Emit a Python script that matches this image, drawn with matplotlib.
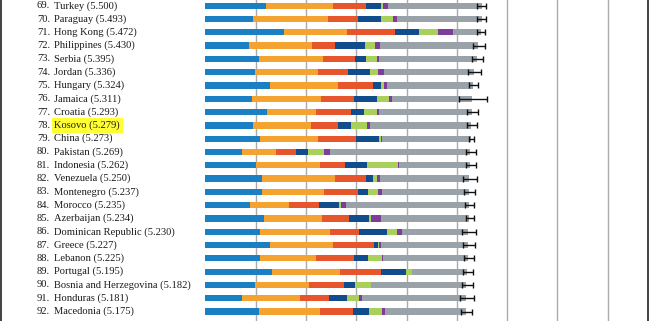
import matplotlib.pyplot as plt

ranks = list(range(69, 93))
countries = ["Turkey", "Paraguay", "Hong Kong", "Philippines", "Serbia", "Jordan",
             "Hungary", "Jamaica", "Croatia", "Kosovo", "China", "Pakistan",
             "Indonesia", "Venezuela", "Montenegro", "Morocco", "Azerbaijan",
             "Dominican Republic", "Greece", "Lebanon", "Portugal",
             "Bosnia and Herzegovina", "Honduras", "Macedonia"]
scores = [5.500, 5.493, 5.472, 5.430, 5.395, 5.336, 5.324, 5.311, 5.293, 5.279,
          5.273, 5.269, 5.262, 5.250, 5.237, 5.235, 5.234, 5.230, 5.227, 5.225,
          5.195, 5.182, 5.181, 5.175]

gdp = [1.207, 0.954, 1.565, 0.869, 1.068, 0.988, 1.286, 0.934, 1.227, 0.954, 1.093, 0.736,
       1.008, 1.127, 1.127, 0.889, 1.167, 1.087, 1.286, 1.087, 1.326, 0.988, 0.730, 1.068]
support = [1.326, 1.485, 1.252, 1.252, 1.272, 1.252, 1.352, 1.366, 0.974, 1.147, 1.147, 0.676,
           1.272, 1.451, 1.233, 0.775, 1.153, 1.392, 1.252, 1.113, 1.352, 1.074, 1.153, 1.213]
health = [0.656, 0.596, 0.954, 0.457, 0.636, 0.596, 0.690, 0.656, 0.696, 0.537, 0.755, 0.398,
          0.497, 0.616, 0.676, 0.596, 0.537, 0.570, 0.815, 0.761, 0.815, 0.696, 0.577, 0.656]
freedom = [0.304, 0.457, 0.477, 0.596, 0.219, 0.437, 0.166, 0.457, 0.252, 0.258, 0.457, 0.233,
           0.444, 0.139, 0.199, 0.398, 0.404, 0.569, 0.086, 0.272, 0.497, 0.219, 0.358, 0.318]
generosity = [0.040, 0.233, 0.378, 0.199, 0.212, 0.152, 0.066, 0.239, 0.265, 0.312, 0.033, 0.318,
              0.616, 0.080, 0.199, 0.040, 0.034, 0.187, 0.005, 0.278, 0.110, 0.318, 0.239, 0.258]
corruption = [0.093, 0.085, 0.298, 0.099, 0.046, 0.126, 0.048, 0.060, 0.040, 0.060, 0.020, 0.119,
              0.015, 0.060, 0.080, 0.099, 0.199, 0.110, 0.040, 0.020, 0.015, 0.005, 0.060, 0.060]
residual = [1.874, 1.683, 0.548, 1.958, 1.942, 1.785, 1.716, 1.599, 1.839, 2.011, 1.768, 2.789,
            1.410, 1.777, 1.723, 2.438, 1.740, 1.315, 1.743, 1.694, 1.080, 1.882, 2.064, 1.602]

whisker_low = [5.41, 5.41, 5.40, 5.33, 5.31, 5.23, 5.25, 5.05, 5.21, 5.21, 5.24, 5.19,
               5.18, 5.13, 5.14, 5.16, 5.18, 5.11, 5.13, 5.15, 5.12, 5.10, 5.07, 5.08]
whisker_high = [5.59, 5.58, 5.57, 5.57, 5.52, 5.48, 5.43, 5.61, 5.42, 5.40, 5.34, 5.39,
                5.38, 5.40, 5.37, 5.34, 5.34, 5.38, 5.36, 5.34, 5.32, 5.32, 5.34, 5.30]

highlight = "Kosovo"

components = [gdp, support, health, freedom, generosity, corruption, residual]
colors = ["#1b80c3", "#f4a331", "#e6552b", "#114d8c", "#a8d05b", "#7e3d98", "#99a2a8"]

fig = plt.figure(figsize=(6.5, 3.21), dpi=100)
ax = fig.add_axes([0, 0, 1, 1])
ax.set_xlim(-4.082, 8.841)
ax.set_ylim(23.71, -0.429)
ax.axis("off")

rows = list(range(len(countries)))

# gridlines
for g in range(1, 9):
    ax.axvline(g, color="#ababab", lw=1.0, zorder=0)

left = [0.0] * len(rows)
for vals, c in zip(components, colors):
    ax.barh(rows, vals, left=left, height=0.47, color=c, linewidth=0, zorder=2)
    left = [a + b for a, b in zip(left, vals)]

xerr = [[s - lo for s, lo in zip(scores, whisker_low)],
        [hi - s for s, hi in zip(scores, whisker_high)]]
ax.errorbar(scores, rows, xerr=xerr, fmt="none", ecolor="#111111",
            elinewidth=1.0, capsize=2.5, capthick=1.0, zorder=3)

font = dict(family=["Liberation Serif", "DejaVu Serif"], fontsize=7.6, color="#1a1a1a")
for r, rank, name, s in zip(rows, ranks, countries, scores):
    ax.text(50 / 650, r, f"{rank}.", ha="right", va="center",
            transform=ax.get_yaxis_transform(), **font)
    kw = {}
    if name == highlight:
        kw["bbox"] = dict(facecolor="#ffff33", edgecolor="none", pad=1.8)
    ax.text(54.5 / 650, r, f"{name} ({s:.3f})", ha="left", va="center",
            transform=ax.get_yaxis_transform(), **font, **kw)

# frame lines on the sides
ax.plot([1 / 650, 1 / 650], [0, 1], transform=ax.transAxes, color="#333333", lw=1.3)
ax.plot([648 / 650, 648 / 650], [0, 1], transform=ax.transAxes, color="#333333", lw=1.3)

fig.savefig("out.png", dpi=100)
